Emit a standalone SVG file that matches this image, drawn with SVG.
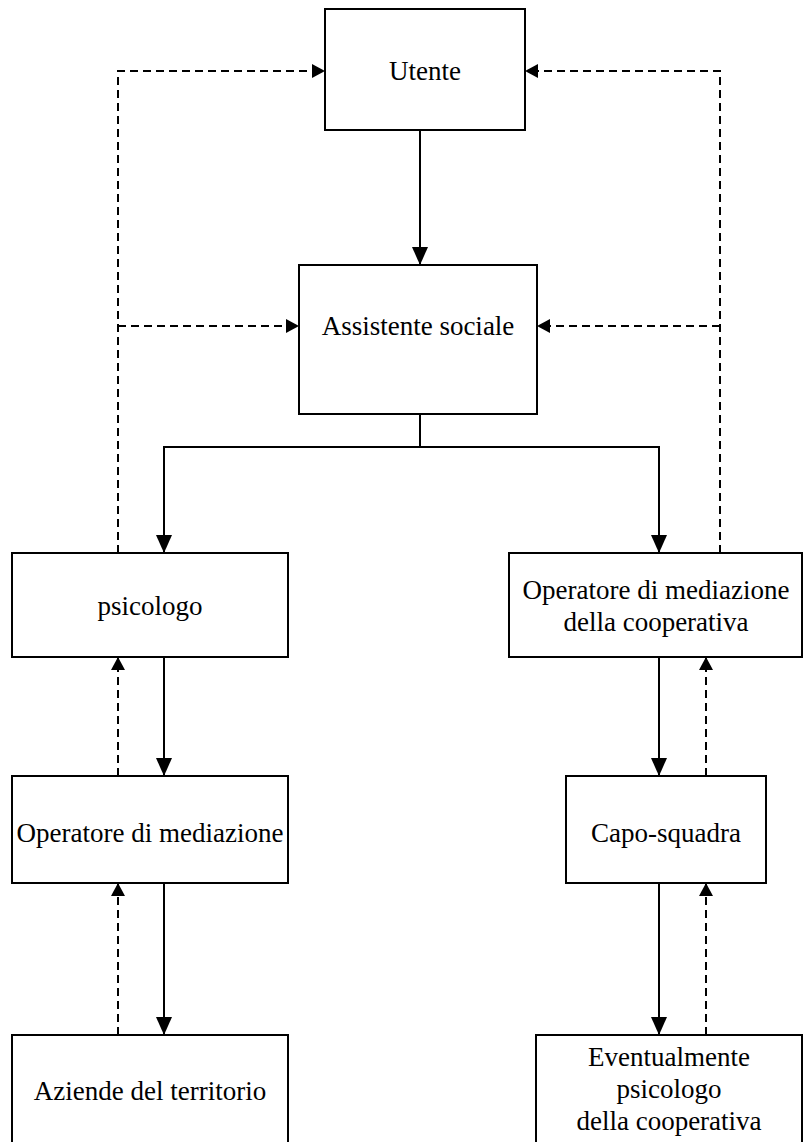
<svg xmlns="http://www.w3.org/2000/svg" width="803" height="1142" viewBox="0 0 803 1142">
  <style>
    .box { fill: #fff; stroke: #000; stroke-width: 2; }
    .lbl { font-family: "Liberation Serif", "Times New Roman", serif; font-size: 27px; fill: #000; text-anchor: middle; }
    .solid { fill: none; stroke: #000; stroke-width: 2; }
    .dash { fill: none; stroke: #000; stroke-width: 2; stroke-dasharray: 8 5; }
  </style>
  <defs>
    <marker id="head" markerUnits="userSpaceOnUse" markerWidth="20" markerHeight="20" refX="18" refY="8" orient="auto">
      <path d="M0,0 L18,8 L0,16 Z" fill="#000"/>
    </marker>
    <marker id="headDash" markerUnits="userSpaceOnUse" markerWidth="16" markerHeight="16" refX="13" refY="7" orient="auto">
      <path d="M0,0 L13,7 L0,14 Z" fill="#000"/>
    </marker>
  </defs>
  <rect width="803" height="1142" fill="#fff"/>

  <g id="connectors">
    <!-- main flow -->
    <path class="solid" d="M420,130 V265" marker-end="url(#head)"/>
    <path class="solid" d="M420,414 V447 H164 V553" marker-end="url(#head)"/>
    <path class="solid" d="M420,447 H659 V553" marker-end="url(#head)"/>
    <path class="solid" d="M164,657 V776" marker-end="url(#head)"/>
    <path class="solid" d="M164,883 V1035" marker-end="url(#head)"/>
    <path class="solid" d="M659,657 V776" marker-end="url(#head)"/>
    <path class="solid" d="M659,883 V1035" marker-end="url(#head)"/>
    <!-- feedback, left side -->
    <path class="dash" d="M118,553 V71 H325" marker-end="url(#headDash)"/>
    <path class="dash" d="M118,326 H299" marker-end="url(#headDash)"/>
    <path class="dash" d="M118,776 V657" marker-end="url(#headDash)"/>
    <path class="dash" d="M118,1035 V883" marker-end="url(#headDash)"/>
    <!-- feedback, right side -->
    <path class="dash" d="M720,553 V71 H525" marker-end="url(#headDash)"/>
    <path class="dash" d="M720,326 H537" marker-end="url(#headDash)"/>
    <path class="dash" d="M706,776 V657" marker-end="url(#headDash)"/>
    <path class="dash" d="M706,1035 V883" marker-end="url(#headDash)"/>
  </g>

  <g id="utente">
    <rect class="box" x="325" y="9" width="200" height="121"/>
    <text class="lbl" x="425" y="80">Utente</text>
  </g>
  <g id="assistente-sociale">
    <rect class="box" x="299" y="265" width="238" height="149"/>
    <text class="lbl" x="418" y="335">Assistente sociale</text>
  </g>
  <g id="psicologo">
    <rect class="box" x="12" y="553" width="276" height="104"/>
    <text class="lbl" x="150" y="615">psicologo</text>
  </g>
  <g id="operatore-cooperativa">
    <rect class="box" x="509" y="553" width="293" height="104"/>
    <text class="lbl" x="656" y="599">Operatore di mediazione</text>
    <text class="lbl" x="656" y="631">della cooperativa</text>
  </g>
  <g id="operatore-mediazione">
    <rect class="box" x="12" y="776" width="276" height="107"/>
    <text class="lbl" x="150" y="842">Operatore di mediazione</text>
  </g>
  <g id="capo-squadra">
    <rect class="box" x="566" y="776" width="200" height="107"/>
    <text class="lbl" x="666" y="842">Capo-squadra</text>
  </g>
  <g id="aziende">
    <rect class="box" x="12" y="1035" width="276" height="120"/>
    <text class="lbl" x="150" y="1100">Aziende del territorio</text>
  </g>
  <g id="psicologo-cooperativa">
    <rect class="box" x="536" y="1035" width="266" height="120"/>
    <text class="lbl" x="669" y="1066">Eventualmente</text>
    <text class="lbl" x="669" y="1098">psicologo</text>
    <text class="lbl" x="669" y="1130">della cooperativa</text>
  </g>
</svg>
